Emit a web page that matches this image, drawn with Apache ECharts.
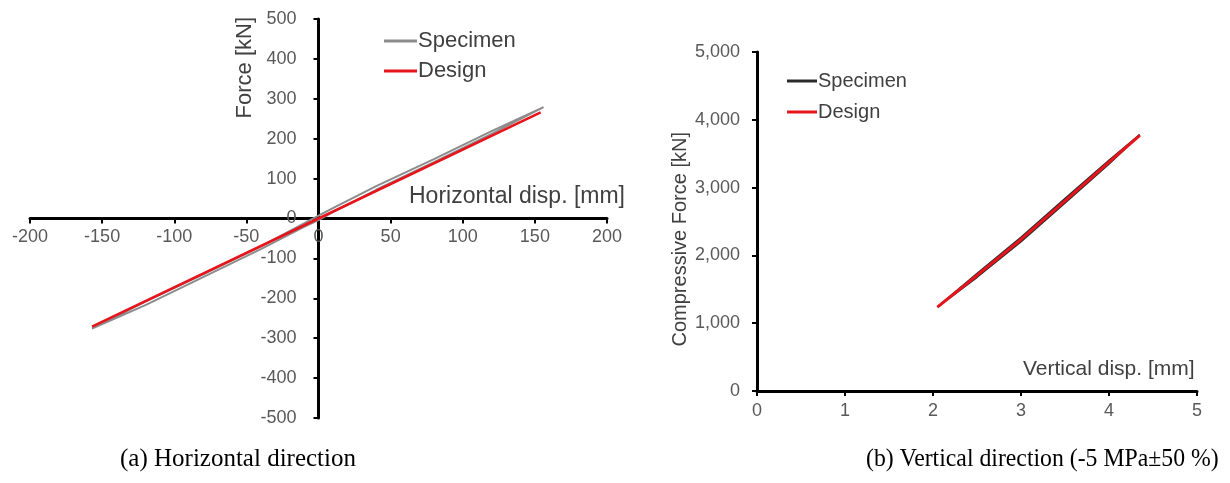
<!DOCTYPE html>
<html>
<head>
<meta charset="utf-8">
<script src="https://cdn.jsdelivr.net/npm/echarts@6/dist/echarts.min.js"></script>
<style>
html,body{margin:0;padding:0;background:#fff;}
#c{width:1230px;height:483px;}
</style>
</head>
<body>
<div id="c"></div>
<script>
// ---- (a) Horizontal direction ----
const hSpecimenLoad = [[-157,-276],[-120,-217],[-80,-147],[-40,-77],[-10,-21],[0,-4],[10,16],[20,34],[40,72],[80,141],[120,212],[156,279]];
const hSpecimenUnload = [[156,279],[120,219],[80,149],[40,81],[10,26],[0,7],[-10,-12],[-40,-70],[-80,-140],[-120,-208],[-157,-276]];
const hDesign = [[-157,-271],[0,0],[154,266]];
const hXTicks = [-200, 200, 50];
const hYTicks = [-500, 500, 100];

// ---- (b) Vertical direction ----
const vSpecimenLoad = [[2.05,1240],[2.5,1730],[3,2265],[3.5,2835],[4,3400],[4.35,3778]];
const vSpecimenUnload = [[4.35,3778],[4,3350],[3.5,2775],[3,2205],[2.5,1680],[2.05,1240]];
const vDesign = [[2.05,1237],[2.5,1705],[3,2235],[3.5,2805],[4,3375],[4.35,3772]];
const vXTicks = [0, 5, 1];
const vYTicks = [0, 5000, 1000];

const seriesNames = ['Specimen', 'Design'];
const captions = ['(a) Horizontal direction', '(b) Vertical direction (-5 MPa\u00B150 %)'];
const axisTitles = ['Force [kN]', 'Horizontal disp. [mm]', 'Compressive Force [kN]', 'Vertical disp. [mm]'];

const FF = 'Liberation Sans, Arial, sans-serif';
const SERIF = 'Liberation Serif, Times New Roman, serif';
const labelColor = '#595959';
const titleColor = '#404040';

function axisCommon(ticks, fmt, margin, offset) {
  return {
    type: 'value', min: ticks[0], max: ticks[1], interval: ticks[2],
    offset: offset,
    splitLine: {show: false},
    axisLine: {show: true, onZero: false, lineStyle: {color: '#000', width: 3}},
    axisTick: {show: true, length: 5, lineStyle: {color: '#000', width: 2}},
    axisLabel: {color: labelColor, fontSize: 18, fontFamily: FF, margin: margin, formatter: fmt}
  };
}
const thousands = v => v.toLocaleString('en-US');

const G0 = {left: 30, top: 19, width: 577, height: 399};
const G1 = {left: 757, top: 52, width: 440, height: 339};

const chart = echarts.init(document.getElementById('c'), null, {renderer: 'canvas'});
chart.setOption({
  backgroundColor: '#fff',
  animation: false,
  grid: [
    Object.assign({outerBoundsMode: 'none', containLabel: false}, G0),
    Object.assign({outerBoundsMode: 'none', containLabel: false}, G1)
  ],
  xAxis: [
    Object.assign(axisCommon(hXTicks, null, 10, -G0.height / 2), {gridIndex: 0, position: 'bottom'}),
    Object.assign(axisCommon(vXTicks, null, 11, 0), {gridIndex: 1, position: 'bottom'})
  ],
  yAxis: [
    Object.assign(axisCommon(hYTicks, null, 22, -G0.width / 2), {gridIndex: 0, position: 'left'}),
    Object.assign(axisCommon(vYTicks, thousands, 17, 0), {gridIndex: 1, position: 'left'})
  ],
  legend: [
    {
      left: 379, top: 25, orient: 'vertical', itemWidth: 33, itemHeight: 3, itemGap: 8, icon: 'rect',
      textStyle: {fontSize: 22, color: titleColor, fontFamily: FF, padding: [0,0,0,-4]},
      formatter: n => n.split(' (')[0],
      data: [seriesNames[0] + ' (a)', seriesNames[1] + ' (a)']
    },
    {
      left: 782, top: 66, orient: 'vertical', itemWidth: 30, itemHeight: 3, itemGap: 11, icon: 'rect',
      textStyle: {fontSize: 20, color: titleColor, fontFamily: FF, padding: [0,0,0,-4]},
      formatter: n => n.split(' (')[0],
      data: [seriesNames[0] + ' (b)', seriesNames[1] + ' (b)']
    }
  ],
  series: [
    {name: seriesNames[0] + ' (a)', type: 'line', xAxisIndex: 0, yAxisIndex: 0, symbol: 'none',
     data: hSpecimenLoad.concat(hSpecimenUnload), lineStyle: {color: '#8c8c8c', width: 2}, itemStyle: {color: '#8c8c8c'}},
    {name: seriesNames[1] + ' (a)', type: 'line', xAxisIndex: 0, yAxisIndex: 0, symbol: 'none',
     data: hDesign, lineStyle: {color: '#e8141c', width: 2.5}, itemStyle: {color: '#e8141c'}},
    {name: seriesNames[0] + ' (b)', type: 'line', xAxisIndex: 1, yAxisIndex: 1, symbol: 'none',
     data: vSpecimenLoad.concat(vSpecimenUnload), lineStyle: {color: '#2a2a2a', width: 2}, itemStyle: {color: '#2a2a2a'}},
    {name: seriesNames[1] + ' (b)', type: 'line', xAxisIndex: 1, yAxisIndex: 1, symbol: 'none',
     data: vDesign, lineStyle: {color: '#e8141c', width: 3}, itemStyle: {color: '#e8141c'}}
  ],
  graphic: [
    {type: 'text', left: 234, top: 17, rotation: Math.PI / 2,
     style: {text: axisTitles[0], fontSize: 22, fill: titleColor, fontFamily: FF}},
    {type: 'text', left: 409, top: 185,
     style: {text: axisTitles[1], fontSize: 23, fill: titleColor, fontFamily: FF}},
    {type: 'text', left: 670, top: 132, rotation: Math.PI / 2,
     style: {text: axisTitles[2], fontSize: 20, fill: titleColor, fontFamily: FF}},
    {type: 'text', left: 1023, top: 359,
     style: {text: axisTitles[3], fontSize: 21, fill: titleColor, fontFamily: FF}},
    {type: 'text', left: 120, top: 447,
     style: {text: captions[0], fontSize: 25, fill: '#000', fontFamily: SERIF}},
    {type: 'text', left: 866, top: 447, scaleX: 0.95,
     style: {text: captions[1], fontSize: 25, fill: '#000', fontFamily: SERIF}}
  ]
});
</script>
</body>
</html>
